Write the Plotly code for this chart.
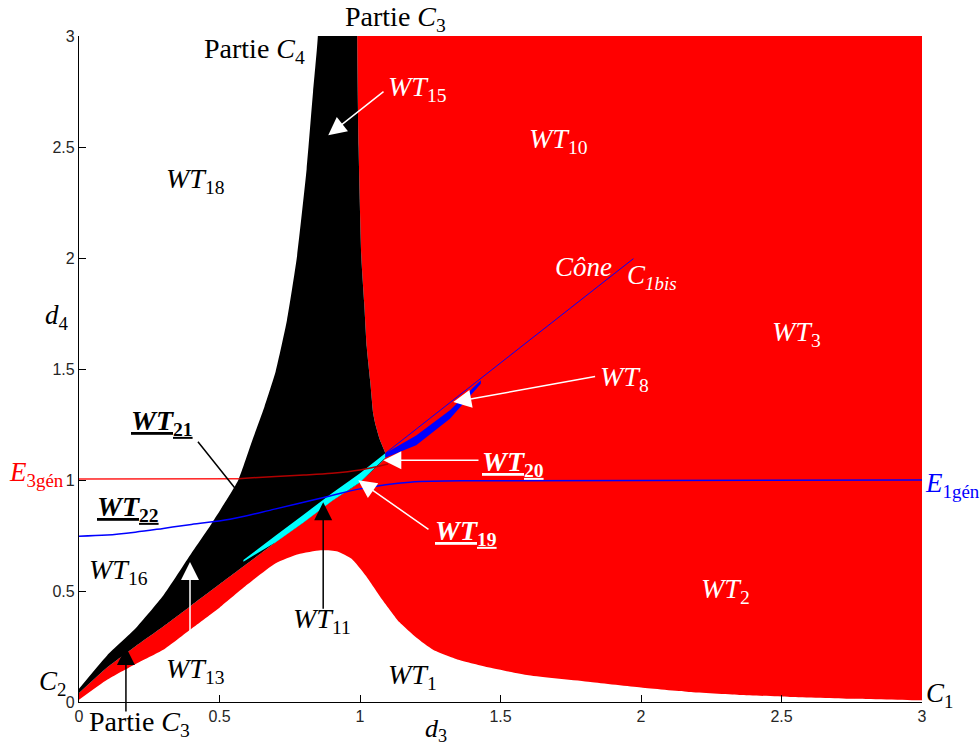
import plotly.graph_objects as go

# ---------------- data ----------------
# lower edge of red domain (upper edge of WT1)
wt1_x = [0, 0.1, 0.2, 0.3, 0.4, 0.5, 0.6, 0.7, 0.78, 0.86, 0.92, 0.97, 1.02, 1.08, 1.14,
         1.2, 1.26, 1.35, 1.46, 1.6, 1.82, 2.0, 2.17, 2.35, 2.53, 2.75, 3.0]
wt1_y = [0.01, 0.1, 0.17, 0.235, 0.33, 0.425, 0.53, 0.625, 0.665, 0.683, 0.678, 0.645, 0.57,
         0.46, 0.36, 0.29, 0.235, 0.19, 0.155, 0.12, 0.09, 0.065, 0.045, 0.032, 0.023, 0.015, 0.008]
# diagonal boundary between black domain and red strip
diag_x = [0, 0.1, 0.2, 0.3, 0.4, 0.5, 0.6, 0.7, 0.8, 0.9, 1.0, 1.09]
diag_y = [0.04, 0.155, 0.25, 0.34, 0.435, 0.53, 0.625, 0.72, 0.81, 0.905, 0.99, 1.1]
# left edge of black domain (WT18 / WT16 boundary)
black_left_x = [0, 0.1, 0.2, 0.3, 0.4, 0.47, 0.53, 0.567, 0.62, 0.66, 0.70, 0.74, 0.775, 0.81, 0.833, 0.85]
black_left_y = [0.06, 0.21, 0.33, 0.48, 0.67, 0.80, 0.92, 1.0, 1.19, 1.33, 1.49, 1.72, 2.0, 2.4, 2.75, 3.0]
# left edge of upper red domain (black / red boundary)
red_left_x = [0.99, 0.995, 1.005, 1.015, 1.024, 1.036, 1.047, 1.055, 1.071, 1.09]
red_left_y = [3.0, 2.5, 2.0, 1.8, 1.6, 1.45, 1.30, 1.25, 1.18, 1.12]
# cyan strip
cyan_x = [0.585, 0.7, 0.8, 0.9, 1.0, 1.09]
cyan_top = [0.64, 0.75, 0.845, 0.94, 1.03, 1.12]
cyan_bot = [0.632, 0.72, 0.81, 0.905, 0.99, 1.1]
# blue wedge
wedge_x = [1.09, 1.2, 1.32, 1.43]
wedge_top = [1.12, 1.2, 1.314, 1.449]
wedge_bot = [1.1, 1.156, 1.276, 1.434]
# cone C1bis
cone_x = [1.09, 1.973]
cone_y = [1.12, 1.997]
# E1gen (blue curve)
e1_x = [0, 0.1, 0.2, 0.3, 0.4, 0.537, 0.7, 0.893, 1.0, 1.178, 1.46, 3.0]
e1_y = [0.747, 0.752, 0.765, 0.782, 0.80, 0.823, 0.87, 0.928, 0.96, 0.99, 0.997, 1.0]
# E3gen (red curve)
e3_x = [0, 0.567, 0.7, 0.8, 0.9, 1.0, 1.1]
e3_y = [1.005, 1.006, 1.016, 1.022, 1.03, 1.045, 1.072]

tick_vals = [0, 0.5, 1, 1.5, 2, 2.5, 3]
tick_text = ["0", "0.5", "1", "1.5", "2", "2.5", "3"]

X_MAX = 3.0
Y_MAX = 3.0
OUT = 0.3  # closure margin outside the visible range (clipped)

# ---------------- figure ----------------
fig = go.Figure()

# red domain
rx = wt1_x + [X_MAX + OUT, X_MAX + OUT, red_left_x[0]] + red_left_x + diag_x[::-1]
ry = wt1_y + [wt1_y[-1], Y_MAX + OUT, Y_MAX + OUT] + red_left_y + diag_y[::-1]
fig.add_trace(go.Scatter(x=rx, y=ry, fill="toself", fillcolor="#ff0000", mode="lines",
                         line=dict(width=0, color="#ff0000", shape="spline", smoothing=0.5),
                         hoverinfo="skip"))

# black domain
bx = black_left_x + [black_left_x[-1], red_left_x[0]] + red_left_x + diag_x[::-1]
by = black_left_y + [Y_MAX + OUT, Y_MAX + OUT] + red_left_y + diag_y[::-1]
fig.add_trace(go.Scatter(x=bx, y=by, fill="toself", fillcolor="#000000", mode="lines",
                         line=dict(width=0, color="#000000", shape="spline", smoothing=0.5),
                         hoverinfo="skip"))

# cyan strip
fig.add_trace(go.Scatter(x=cyan_x + cyan_x[::-1], y=cyan_top + cyan_bot[::-1], fill="toself",
                         fillcolor="#00ffff", mode="none", hoverinfo="skip"))
# blue wedge
fig.add_trace(go.Scatter(x=wedge_x + wedge_x[::-1], y=wedge_top + wedge_bot[::-1], fill="toself",
                         fillcolor="#0000ff", mode="none", hoverinfo="skip"))

# lines
fig.add_trace(go.Scatter(x=cone_x, y=cone_y, mode="lines", line=dict(color="#0000ff", width=1)))
fig.add_trace(go.Scatter(x=e1_x, y=e1_y, mode="lines", line=dict(color="#0000ff", width=1.5, shape="spline")))
fig.add_trace(go.Scatter(x=e3_x[:2], y=e3_y[:2], mode="lines", line=dict(color="#ff2020", width=1.5)))
fig.add_trace(go.Scatter(x=e3_x[1:], y=e3_y[1:], mode="lines", line=dict(color="#b00000", width=1.5, shape="spline")))

SERIF = "Liberation Serif"
anns = []

def txt(x, y, text, color="black", size=28):
    # paper coordinates so labels outside the axes ranges are still drawn
    anns.append(dict(x=x / X_MAX, y=y / Y_MAX, xref="paper", yref="paper", text=text, showarrow=False,
                     xanchor="center", yanchor="middle",
                     font=dict(family=SERIF, size=size, color=color)))

def arrow(x, y, ax, ay, color):
    anns.append(dict(x=x, y=y, ax=ax, ay=ay, xref="x", yref="y", axref="x", ayref="y",
                     text="", showarrow=True, arrowhead=2, arrowsize=2.4, arrowwidth=1.5,
                     arrowcolor=color, standoff=0, startstandoff=0))

def wt(n):
    return "<i>WT</i><sub>%s</sub>" % n

def wtb(n):
    return "<u><b><i>WT</i></b><sub><b>%s</b></sub></u>" % n

txt(1.128, 3.08, "Partie <i>C</i><sub>3</sub>")
txt(0.626, 2.935, "Partie <i>C</i><sub>4</sub>")
txt(1.203, 2.763, wt(15), "white")
txt(0.416, 2.349, wt(18))
txt(1.705, 2.53, wt(10), "white")
txt(1.797, 1.959, "<i>Cône</i>", "white", 27)
txt(2.04, 1.914, "<i>C</i><sub><i>1bis</i></sub>", "white", 27)
txt(2.552, 1.66, wt(3), "white")
txt(1.943, 1.457, wt(8), "white")
txt(0.296, 1.261, wtb(21))
txt(1.545, 1.075, wtb(20), "white")
txt(-0.153, 1.029, "<i>E</i><sub>3gén</sub>", "#ff0000", 27)
txt(3.107, 0.976, "<i>E</i><sub>1gén</sub>", "#0000ff", 27)
txt(0.175, 0.871, wtb(22))
txt(1.377, 0.765, wtb(19), "white")
txt(0.139, 0.586, wt(16))
txt(0.413, 0.143, wt(13))
txt(0.866, 0.368, wt(11))
txt(1.186, 0.113, wt(1))
txt(2.302, 0.503, wt(2), "white")
txt(-0.096, 0.084, "<i>C</i><sub>2</sub>", size=27)
txt(3.064, 0.03, "<i>C</i><sub>1</sub>", size=27)
txt(0.217, -0.096, "Partie <i>C</i><sub>3</sub>")
txt(-0.078, 1.734, "<i>d</i><sub>4</sub>", size=27)
txt(1.27, -0.128, "<i>d</i><sub>3</sub>", size=26)

arrow(0.887, 2.553, 1.089, 2.755, "white")      # WT15
arrow(1.332, 1.351, 1.842, 1.467, "white")      # WT8
arrow(0.609, 0.878, 0.419, 1.179, "black")      # WT21
arrow(1.083, 1.089, 1.427, 1.089, "white")      # WT20
arrow(0.994, 0.999, 1.249, 0.773, "white")      # WT19
arrow(0.395, 0.631, 0.395, 0.219, "white")      # WT13
arrow(0.869, 0.9, 0.869, 0.413, "black")        # WT11
arrow(0.167, 0.248, 0.167, -0.05, "black")      # Partie C3

axis_common = dict(range=[0, 3], showgrid=False, zeroline=False, showline=True, linecolor="black",
                   linewidth=1.2, ticks="inside", ticklen=7, tickcolor="black", tickwidth=1,
                   tickvals=tick_vals, ticktext=tick_text,
                   tickfont=dict(family="Liberation Sans", size=16, color="#262626"), mirror=False)

fig.update_layout(
    width=980, height=747, autosize=False,
    margin=dict(l=79, r=58, t=36, b=45),
    plot_bgcolor="white", paper_bgcolor="white",
    showlegend=False,
    xaxis=axis_common,
    yaxis=axis_common,
    annotations=anns,
)

fig.write_html("out.html", config={"displayModeBar": False},
               post_script="document.body.style.margin='0';")
